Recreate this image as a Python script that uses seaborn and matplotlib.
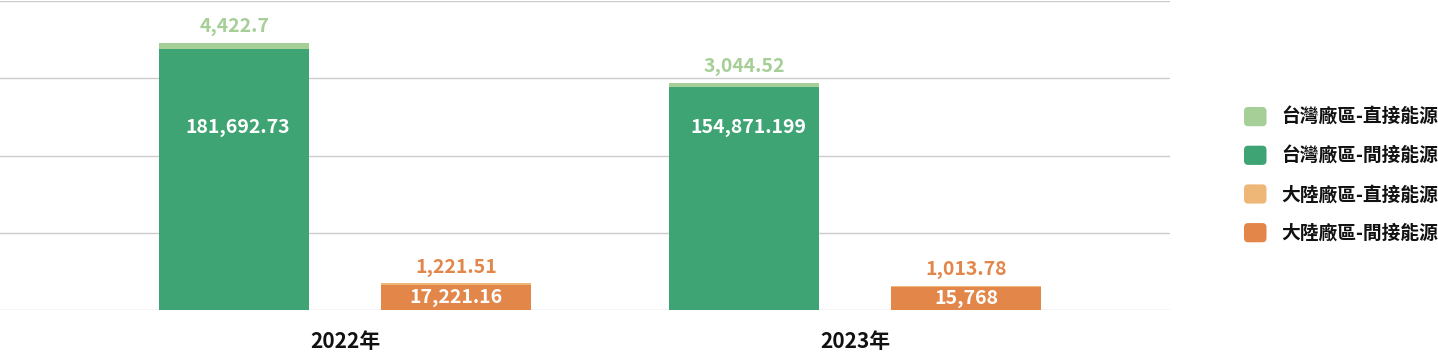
import numpy as np
import pandas as pd
import matplotlib
matplotlib.use("Agg")
import matplotlib.pyplot as plt
from matplotlib.patches import FancyBboxPatch, Patch
from matplotlib.legend_handler import HandlerPatch
import seaborn as sns

plt.rcParams['font.family'] = ['Noto Sans CJK TC', 'DejaVu Sans']

# data
years = ["2022年", "2023年"]
regions = ["台灣廠區", "大陸廠區"]
tw_direct = [4422.7, 3044.52]
tw_indirect = [181692.73, 154871.199]
cn_direct = [1221.51, 1013.78]
cn_indirect = [17221.16, 15768]

legend_labels = ["台灣廠區-直接能源", "台灣廠區-間接能源", "大陸廠區-直接能源", "大陸廠區-間接能源"]

light = {"台灣廠區": "#a6cf97", "大陸廠區": "#eeb777"}
dark = {"台灣廠區": "#3fa474", "大陸廠區": "#e3864a"}
top_text = {"台灣廠區": "#a6cf97", "大陸廠區": "#e3864a"}

df = pd.DataFrame({
    "year": years * 2,
    "region": [regions[0]] * 2 + [regions[1]] * 2,
    "direct": tw_direct + cn_direct,
    "indirect": tw_indirect + cn_indirect,
})
df["total"] = df["direct"] + df["indirect"]

direct_vals = {"台灣廠區": tw_direct, "大陸廠區": cn_direct}
indirect_vals = {"台灣廠區": tw_indirect, "大陸廠區": cn_indirect}

fig = plt.figure(figsize=(14.38, 3.57), dpi=100)
ax = fig.add_axes([0, 47 / 357, 1170 / 1438, 309 / 357])

common = dict(x="year", hue="region", hue_order=regions, order=years,
              width=0.87, gap=0.324, saturation=1, errorbar=None,
              legend=False, ax=ax, linewidth=0)
sns.barplot(data=df, y="total", palette=light, **common)
sns.barplot(data=df, y="indirect", palette=dark, **common)

ymax = 215000
ax.set_ylim(0, ymax)
ax.set_xlim(-0.6765, 1.6176)
ax.set_yticks(np.linspace(0, ymax, 5))
ax.set_yticklabels([])
ax.grid(axis="y", color="#cccccc", linewidth=1)
ax.set_axisbelow(True)
for s in ax.spines.values():
    s.set_visible(False)
ax.tick_params(axis="both", length=0)
ax.tick_params(axis="x", pad=15, labelsize=15)
for t in ax.get_xticklabels():
    t.set_fontweight("bold")
    t.set_color("#111111")
ax.set_xlabel("")
ax.set_ylabel("")

# labels
for i, reg in enumerate(regions):
    tot_c = ax.containers[i]
    ind_c = ax.containers[i + 2]
    ax.bar_label(tot_c, labels=[f"{v:,}" for v in direct_vals[reg]], padding=5,
                 color=top_text[reg], fontsize=14, fontweight="bold")
    if reg == "大陸廠區":
        ax.bar_label(ind_c, labels=[f"{v:,}" for v in indirect_vals[reg]], label_type="center",
                     color="white", fontsize=14, fontweight="bold")
    else:
        for rect, v in zip(ind_c.patches, indirect_vals[reg]):
            ax.text(rect.get_x() + rect.get_width() / 2 + 4 / 510, 0.592, f"{v:,}",
                    transform=ax.get_xaxis_transform(), ha="center", va="center",
                    color="white", fontsize=14, fontweight="bold")


class RoundHandler(HandlerPatch):
    def create_artists(self, legend, orig_handle, xdescent, ydescent, width, height, fontsize, trans):
        p = FancyBboxPatch((-xdescent, -ydescent), width, height,
                           boxstyle="round,pad=0,rounding_size=3",
                           facecolor=orig_handle.get_facecolor(), edgecolor="none",
                           transform=trans)
        return [p]


handles = [Patch(color=light[regions[0]]), Patch(color=dark[regions[0]]),
           Patch(color=light[regions[1]]), Patch(color=dark[regions[1]])]
leg = fig.legend(handles, legend_labels, loc="upper left",
                 bbox_to_anchor=(1244 / 1438, 1 - 107 / 357),
                 frameon=False, borderpad=0, borderaxespad=0,
                 handlelength=1.2, handleheight=1.2, handletextpad=0.8,
                 labelspacing=1.0, prop={"size": 13.5, "weight": "bold"},
                 handler_map={Patch: RoundHandler()})
for t in leg.get_texts():
    t.set_color("#111111")

fig.savefig("out.png", dpi=100)
